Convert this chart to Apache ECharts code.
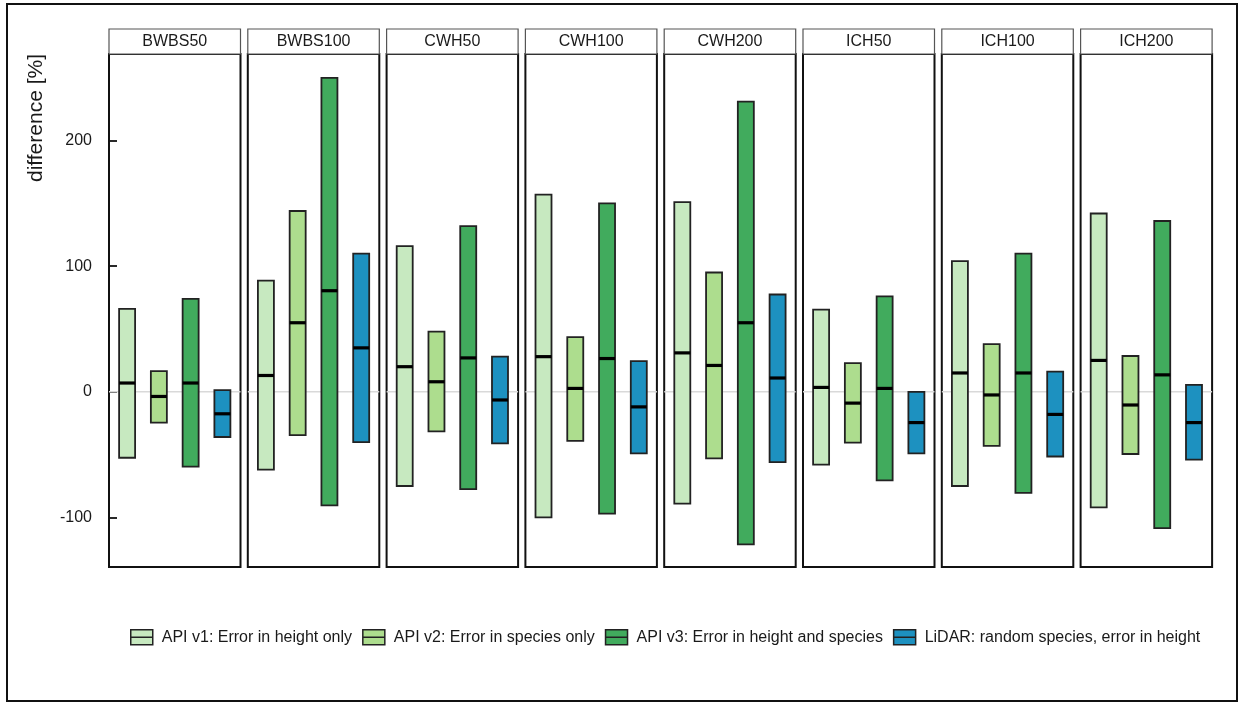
<!DOCTYPE html>
<html>
<head>
<meta charset="utf-8">
<script src="https://cdn.jsdelivr.net/npm/echarts@6/dist/echarts.min.js"></script>
<style>html,body{margin:0;padding:0;background:#fff}#c{width:1241px;height:702px}</style>
</head>
<body>
<div id="c"></div>
<script>
const sites = ['BWBS50','BWBS100','CWH50','CWH100','CWH200','ICH50','ICH100','ICH200'];
const methods = ['API v1: Error in height only','API v2: Error in species only','API v3: Error in height and species','LiDAR: random species, error in height'];
const colors = ['#c7e9c0','#addd8e','#41ab5d','#1d91c0'];
const yTicks = [-100, 0, 100, 200];

// per method: min, median, max across sites
const v1Min = [-52.5, -62, -75, -100, -89, -58, -75, -92];
const v1Med = [7, 13, 20, 28, 31, 3.5, 15, 25];
const v1Max = [66, 88.5, 116, 157, 151, 65.5, 104, 142];

const v2Min = [-24.5, -34.5, -31.5, -39, -53, -40.5, -43, -49.5];
const v2Med = [-3.7, 55, 8, 2.7, 21, -9, -2.5, -10.5];
const v2Max = [16.5, 144, 48, 43.5, 95, 22.8, 38, 28.5];

const v3Min = [-59.5, -90.5, -77.5, -97, -121.5, -70.5, -80.5, -108.5];
const v3Med = [7, 80.5, 27, 26.5, 55, 2.7, 15, 13.5];
const v3Max = [74, 250, 132, 150, 231, 76, 110, 136];

const v4Min = [-36, -40, -41, -49, -56, -49, -51.5, -54];
const v4Med = [-17.5, 35, -6.5, -12, 11, -24.5, -18, -24.5];
const v4Max = [1.3, 110, 28, 24.5, 77.5, 0, 16, 5.5];

const mins = [v1Min, v2Min, v3Min, v4Min];
const meds = [v1Med, v2Med, v3Med, v4Med];
const maxs = [v1Max, v2Max, v3Max, v4Max];

const FONT = 'Liberation Sans, Arial, sans-serif';
const gridTop = 54, gridH = 513, gridW = 131.5, gridL0 = 109, gridStep = 138.8;

const grids = [], xAxes = [], yAxes = [], series = [], graphics = [];

function renderBar(params, api) {
  const x = api.value(0), lo = api.value(1), med = api.value(2), hi = api.value(3);
  const pLo = api.coord([x, lo]);
  const pHi = api.coord([x, hi]);
  const pMed = api.coord([x, med]);
  const w = 16;
  const color = api.visual('color');
  return {
    type: 'group',
    children: [
      { type: 'rect', shape: { x: pHi[0] - w / 2, y: pHi[1], width: w, height: pLo[1] - pHi[1] },
        style: { fill: color, stroke: '#222', lineWidth: 1.8 } },
      { type: 'line', shape: { x1: pMed[0] - w / 2, y1: pMed[1], x2: pMed[0] + w / 2, y2: pMed[1] },
        style: { stroke: '#000', lineWidth: 3.2 } }
    ]
  };
}

sites.forEach((s, i) => {
  const left = gridL0 + i * gridStep;
  grids.push({ left: left, top: gridTop, width: gridW, height: gridH, show: true,
    borderColor: '#111', borderWidth: 2, backgroundColor: 'transparent' });
  xAxes.push({ type: 'value', gridIndex: i, min: 0.43, max: 4.57, show: false });
  yAxes.push({
    type: 'value', gridIndex: i, min: -139.5, max: 269,
    axisLine: { show: false },
    axisTick: { show: i === 0, inside: true, length: 8, customValues: yTicks, lineStyle: { color: '#111', width: 1.8 } },
    axisLabel: { show: i === 0, customValues: yTicks, margin: 17, fontSize: 16, color: '#1a1a1a', fontFamily: FONT },
    splitLine: { show: false }
  });
  // zero reference line
  series.push({
    type: 'line', xAxisIndex: i, yAxisIndex: i, silent: true, symbol: 'none', z: 1,
    data: [[0.43, 0], [4.57, 0]], lineStyle: { color: '#d9d9d9', width: 1.5 }
  });
  methods.forEach((m, k) => {
    series.push({
      type: 'custom', name: m, xAxisIndex: i, yAxisIndex: i, z: 3,
      itemStyle: { color: colors[k] },
      renderItem: renderBar,
      data: [[k + 1, mins[k][i], meds[k][i], maxs[k][i]]]
    });
  });
  // strip header
  graphics.push({ type: 'rect', shape: { x: left, y: 29, width: gridW, height: 25 },
    style: { fill: '#fff', stroke: '#555', lineWidth: 1.2 } });
  graphics.push({ type: 'text', x: left + gridW / 2, y: 42,
    style: { text: s, fill: '#1a1a1a', font: '16px ' + FONT, textAlign: 'center', textVerticalAlign: 'middle' } });
});

// outer frame
graphics.push({ type: 'rect', shape: { x: 7, y: 4, width: 1230, height: 697 },
  style: { fill: 'none', stroke: '#111', lineWidth: 2 }, z: -1 });
// y axis title
graphics.push({ type: 'text', x: 36, y: 118, rotation: Math.PI / 2,
  style: { text: 'difference [%]', fill: '#1a1a1a', font: '21px ' + FONT, textAlign: 'center', textVerticalAlign: 'middle' } });

const chart = echarts.init(document.getElementById('c'), null, { renderer: 'canvas' });
chart.setOption({
  backgroundColor: '#fff',
  animation: false,
  grid: grids,
  xAxis: xAxes,
  yAxis: yAxes,
  legend: {
    data: methods.map((m, k) => ({ name: m, icon: 'path://M0,0H22V15H0ZM0,7.5H22', itemStyle: { color: colors[k], borderColor: '#222', borderWidth: 1.5 } })),
    left: 130, top: 629, padding: 0, itemWidth: 22, itemHeight: 15, itemGap: 10,
    textStyle: { fontSize: 16, color: '#1a1a1a', fontFamily: FONT, padding: [0, 0, 0, 4] }
  },
  graphic: graphics,
  series: series
});
</script>
</body>
</html>
